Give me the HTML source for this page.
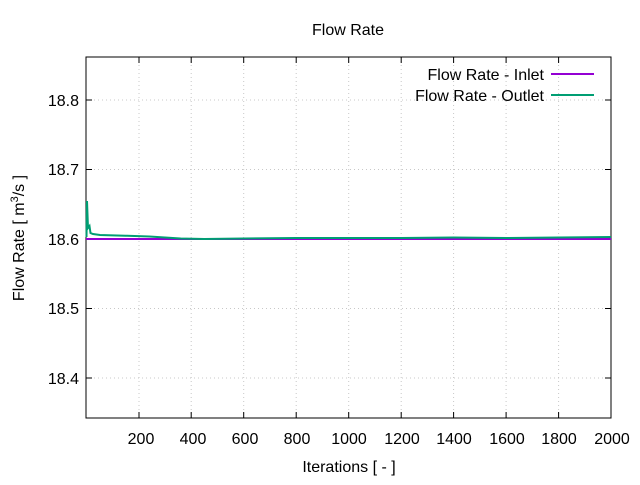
<!DOCTYPE html>
<html><head><style>
body{margin:0;background:#fff}
svg text{font-family:"Liberation Sans",sans-serif;fill:#000}
</style></head><body>
<svg width="640" height="480" viewBox="0 0 640 480" xmlns="http://www.w3.org/2000/svg">
<rect width="640" height="480" fill="#fff"/>
<g stroke="#c8c8c8" stroke-width="1" stroke-dasharray="1,3">
<line x1="86" y1="378" x2="611" y2="378"/>
<line x1="86" y1="308.5" x2="611" y2="308.5"/>
<line x1="86" y1="239" x2="611" y2="239"/>
<line x1="86" y1="169.5" x2="611" y2="169.5"/>
<line x1="86" y1="100" x2="611" y2="100"/>
<line x1="139" y1="57" x2="139" y2="418"/>
<line x1="191.2" y1="57" x2="191.2" y2="418"/>
<line x1="243.7" y1="57" x2="243.7" y2="418"/>
<line x1="296.2" y1="57" x2="296.2" y2="418"/>
<line x1="348.7" y1="57" x2="348.7" y2="418"/>
<line x1="401.2" y1="57" x2="401.2" y2="418"/>
<line x1="453.6" y1="57" x2="453.6" y2="418"/>
<line x1="506.1" y1="57" x2="506.1" y2="418"/>
<line x1="558.6" y1="57" x2="558.6" y2="418"/>
</g>
<g stroke="#000" stroke-width="1">
<path d="M86,378h6M86,308.5h6M86,239h6M86,169.5h6M86,100h6M611,378h-6M611,308.5h-6M611,239h-6M611,169.5h-6M611,100h-6"/>
<path d="M139,418v-6M191.2,418v-6M243.7,418v-6M296.2,418v-6M348.7,418v-6M401.2,418v-6M453.6,418v-6M506.1,418v-6M558.6,418v-6M139,57v6M191.2,57v6M243.7,57v6M296.2,57v6M348.7,57v6M401.2,57v6M453.6,57v6M506.1,57v6M558.6,57v6"/>
<rect x="86" y="57" width="525" height="361" fill="none"/>
</g>
<polyline fill="none" stroke="#9400d3" stroke-width="2" points="86,239 611,239"/>
<polyline fill="none" stroke="#009e73" stroke-width="2" points="86.5,237 87,201 88,228 89.5,226 90.5,233 93,234 100,235 125.6,235.7 149.3,236.5 165,237.5 180.7,238.5 204.3,239 243.7,238.5 296.1,238 348.6,238 401,238 453.5,237.5 506,238 558.4,237.5 611,237"/>
<text x="348" y="35" font-size="16" text-anchor="middle">Flow Rate</text>
<g font-size="16" text-anchor="end">
<text x="79" y="384">18.4</text>
<text x="79" y="314">18.5</text>
<text x="79" y="245">18.6</text>
<text x="79" y="175">18.7</text>
<text x="79" y="106">18.8</text>
</g>
<g font-size="16" text-anchor="middle">
<text x="141" y="444">200</text><text x="193" y="444">400</text><text x="245" y="444">600</text>
<text x="297" y="444">800</text><text x="349" y="444">1000</text><text x="402" y="444">1200</text>
<text x="454" y="444">1400</text><text x="507" y="444">1600</text><text x="559" y="444">1800</text>
<text x="612" y="444">2000</text>
<text x="349" y="472">Iterations [ - ]</text>
</g>
<text transform="translate(24,238) rotate(-90)" font-size="16" text-anchor="middle">Flow Rate [ m<tspan dy="-6" font-size="11">3</tspan><tspan dy="6">/s ]</tspan></text>
<g font-size="16" text-anchor="end">
<text x="544" y="80">Flow Rate - Inlet</text>
<text x="544" y="101">Flow Rate - Outlet</text>
</g>
<line x1="551" y1="74" x2="594" y2="74" stroke="#9400d3" stroke-width="2"/>
<line x1="551" y1="95" x2="594" y2="95" stroke="#009e73" stroke-width="2"/>
</svg>
</body></html>
